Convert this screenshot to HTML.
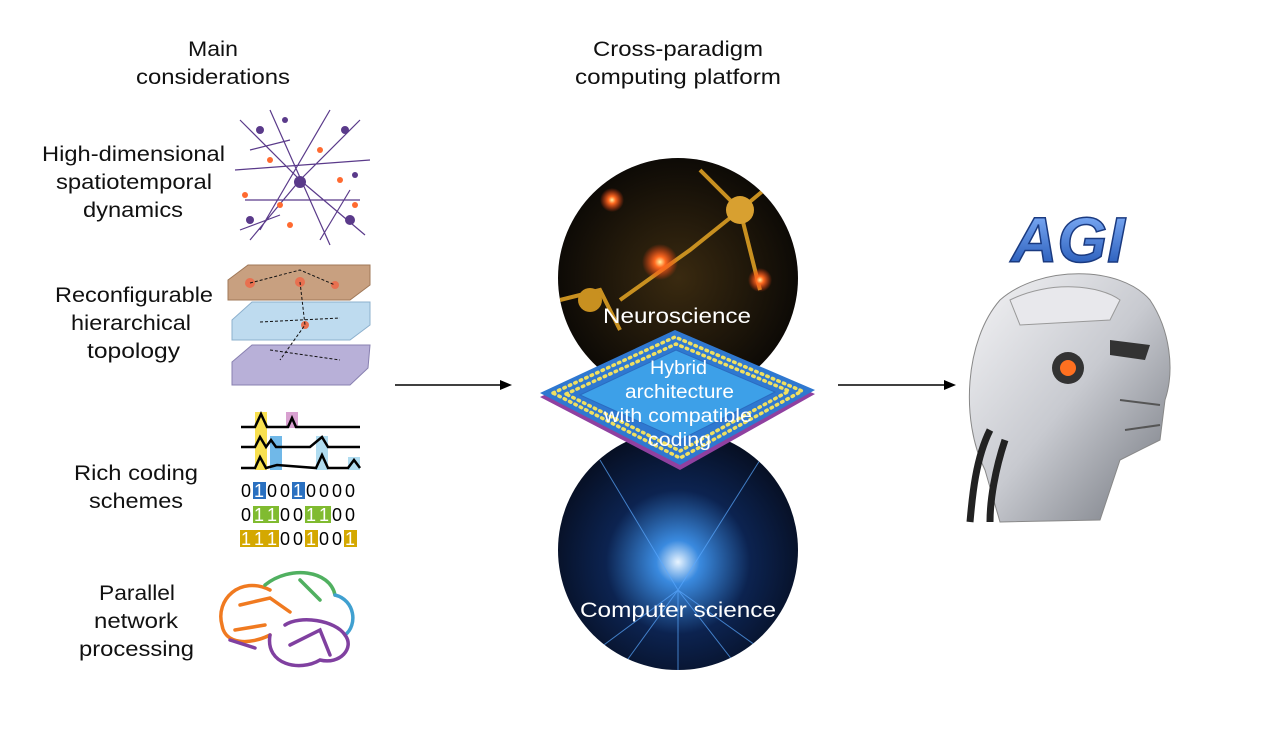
<!DOCTYPE html>
<html><head><meta charset="utf-8"><style>
body{margin:0;width:1264px;height:728px;background:#fff;overflow:hidden;font-family:"Liberation Sans",sans-serif}
</style></head><body>
<svg width="1264" height="728" viewBox="0 0 1264 728" xmlns="http://www.w3.org/2000/svg" font-family="Liberation Sans, sans-serif">
<defs>
<radialGradient id="gn" cx="0.5" cy="0.5" r="0.5"><stop offset="0" stop-color="#3a2a10"/><stop offset="1" stop-color="#0d0a06"/></radialGradient>
<radialGradient id="gc" cx="0.5" cy="0.55" r="0.6"><stop offset="0" stop-color="#e8f4ff"/><stop offset="0.15" stop-color="#3a8adf"/><stop offset="0.5" stop-color="#0c2350"/><stop offset="1" stop-color="#050a18"/></radialGradient>
<radialGradient id="orb" r="0.5"><stop offset="0" stop-color="#fff0a0"/><stop offset="0.3" stop-color="#ff6a20"/><stop offset="1" stop-color="#ff4010" stop-opacity="0"/></radialGradient>
<linearGradient id="head" x1="0" y1="0" x2="1" y2="1"><stop offset="0" stop-color="#f4f4f6"/><stop offset="0.5" stop-color="#c8cad0"/><stop offset="1" stop-color="#70747c"/></linearGradient>
<linearGradient id="agi" x1="0" y1="0" x2="0" y2="1"><stop offset="0" stop-color="#8ab8ff"/><stop offset="1" stop-color="#1a4fb0"/></linearGradient>
<clipPath id="c1"><circle cx="678" cy="278" r="120"/></clipPath>
<clipPath id="c2"><circle cx="678" cy="550" r="120"/></clipPath>
</defs>
<g font-size="21" fill="#111">
<text x="188" y="56" textLength="50" lengthAdjust="spacingAndGlyphs">Main</text><text x="136" y="84" textLength="154" lengthAdjust="spacingAndGlyphs">considerations</text>
<text x="593" y="56" textLength="170" lengthAdjust="spacingAndGlyphs">Cross-paradigm</text><text x="575" y="84" textLength="206" lengthAdjust="spacingAndGlyphs">computing platform</text>
<text x="42" y="161" textLength="183" lengthAdjust="spacingAndGlyphs">High-dimensional</text><text x="56" y="189" textLength="156" lengthAdjust="spacingAndGlyphs">spatiotemporal</text><text x="83" y="217" textLength="100" lengthAdjust="spacingAndGlyphs">dynamics</text>
<text x="55" y="302" textLength="158" lengthAdjust="spacingAndGlyphs">Reconfigurable</text><text x="71" y="330" textLength="120" lengthAdjust="spacingAndGlyphs">hierarchical</text><text x="87" y="358" textLength="93" lengthAdjust="spacingAndGlyphs">topology</text>
<text x="74" y="480" textLength="124" lengthAdjust="spacingAndGlyphs">Rich coding</text><text x="89" y="508" textLength="94" lengthAdjust="spacingAndGlyphs">schemes</text>
<text x="99" y="600" textLength="76" lengthAdjust="spacingAndGlyphs">Parallel</text><text x="94" y="628" textLength="84" lengthAdjust="spacingAndGlyphs">network</text><text x="79" y="656" textLength="115" lengthAdjust="spacingAndGlyphs">processing</text>
</g>
<!-- neurons -->
<g stroke="#5a3a8a" stroke-width="1.2" fill="none">
<path d="M240 120 L300 180 L360 120 M300 180 L250 240 M300 180 L365 235 M235 170 L370 160 M270 110 L330 245 M330 110 L260 230 M245 200 L360 200 M250 150 L290 140 M320 240 L350 190 M240 230 L280 215"/>
</g>
<g fill="#5a3a8a"><circle cx="300" cy="182" r="6"/><circle cx="260" cy="130" r="4"/><circle cx="345" cy="130" r="4"/><circle cx="250" cy="220" r="4"/><circle cx="350" cy="220" r="5"/><circle cx="285" cy="120" r="3"/><circle cx="355" cy="175" r="3"/></g>
<g fill="#ff6a30"><circle cx="270" cy="160" r="3"/><circle cx="320" cy="150" r="3"/><circle cx="245" cy="195" r="3"/><circle cx="340" cy="180" r="3"/><circle cx="290" cy="225" r="3"/><circle cx="355" cy="205" r="3"/><circle cx="280" cy="205" r="3"/></g>
<!-- layers -->
<polygon points="228,280 248,265 370,265 370,285 350,300 228,300" fill="#c8a080" stroke="#a07858"/>
<polygon points="232,320 252,302 370,302 370,325 350,340 232,340" fill="#b8d8ee" stroke="#80a8c8" opacity="0.9"/>
<polygon points="232,362 252,345 370,345 368,368 350,385 232,385" fill="#b8b0d8" stroke="#8880b0"/>
<g fill="#e87050"><circle cx="250" cy="283" r="5"/><circle cx="300" cy="282" r="5"/><circle cx="335" cy="285" r="4"/><circle cx="305" cy="325" r="4"/></g>
<g stroke="#111" stroke-width="1" fill="none" stroke-dasharray="3,2"><path d="M250 283 L300 270 L335 285 M300 282 L305 325 L280 360 M260 322 L340 318 M270 350 L340 360"/></g>
<!-- waves -->
<rect x="255" y="412" width="12" height="58" fill="#f8e050"/>
<rect x="286" y="412" width="12" height="16" fill="#d8a0d0"/>
<rect x="270" y="436" width="12" height="34" fill="#70b8e8"/>
<rect x="316" y="436" width="12" height="34" fill="#b0dcf0"/>
<rect x="348" y="457" width="12" height="13" fill="#b0dcf0"/>
<g stroke="#000" stroke-width="2.5" fill="none">
<path d="M241 427 L255 427 L261 414 L267 427 L288 427 L292 418 L296 427 L360 427"/>
<path d="M241 447 L255 447 L260 437 L266 447 L271 440 L276 447 L310 447 L322 437 L328 447 L360 447"/>
<path d="M241 468 L255 468 L260 457 L266 468 L277 465 L316 468 L322 455 L328 468 L348 468 L354 460 L360 468"/>
</g>
<g font-size="18" text-anchor="middle">
<rect x="253" y="482" width="13" height="17" fill="#2a70c0"/><rect x="292" y="482" width="13" height="17" fill="#2a70c0"/>
<rect x="253" y="506" width="26" height="17" fill="#80bb30"/><rect x="305" y="506" width="26" height="17" fill="#80bb30"/>
<rect x="240" y="530" width="39" height="17" fill="#d4a800"/><rect x="305" y="530" width="13" height="17" fill="#d4a800"/><rect x="344" y="530" width="13" height="17" fill="#d4a800"/>
<text y="497"><tspan x="246">0</tspan><tspan x="259" fill="#fff">1</tspan><tspan x="272">0</tspan><tspan x="285">0</tspan><tspan x="298" fill="#fff">1</tspan><tspan x="311">0</tspan><tspan x="324">0</tspan><tspan x="337">0</tspan><tspan x="350">0</tspan></text>
<text y="521"><tspan x="246">0</tspan><tspan x="259" fill="#fff">1</tspan><tspan x="272" fill="#fff">1</tspan><tspan x="285">0</tspan><tspan x="298">0</tspan><tspan x="311" fill="#fff">1</tspan><tspan x="324" fill="#fff">1</tspan><tspan x="337">0</tspan><tspan x="350">0</tspan></text>
<text y="545"><tspan x="246" fill="#fff">1</tspan><tspan x="259" fill="#fff">1</tspan><tspan x="272" fill="#fff">1</tspan><tspan x="285">0</tspan><tspan x="298">0</tspan><tspan x="311" fill="#fff">1</tspan><tspan x="324">0</tspan><tspan x="337">0</tspan><tspan x="350" fill="#fff">1</tspan></text>
</g>
<!-- brain -->
<g fill="none" stroke-width="3.5" stroke-linecap="round">
<path d="M270 590 C240 575 215 600 222 625 C225 645 250 645 270 635" stroke="#f07a20"/>
<path d="M240 605 L270 598 L290 612 M235 630 L265 625" stroke="#f07a20"/>
<path d="M265 585 C290 565 330 570 335 595" stroke="#50b060"/>
<path d="M300 580 L320 600" stroke="#50b060"/>
<path d="M335 595 C355 600 358 625 345 635" stroke="#40a0d0"/>
<path d="M270 635 C265 665 300 672 320 660 C340 665 355 648 345 635 C335 620 300 615 285 625" stroke="#8040a0"/>
<path d="M290 645 L320 630 L330 655 M230 640 L255 648" stroke="#8040a0"/>
</g>
<!-- arrows -->
<g stroke="#000" stroke-width="1.5"><line x1="395" y1="385" x2="503" y2="385"/><line x1="838" y1="385" x2="946" y2="385"/></g>
<polygon points="512,385 500,380 500,390" fill="#000"/><polygon points="956,385 944,380 944,390" fill="#000"/>
<!-- circles -->
<circle cx="678" cy="278" r="120" fill="url(#gn)"/>
<g clip-path="url(#c1)">
<g stroke="#c89020" stroke-width="4" fill="none"><path d="M740 210 L800 160 M740 210 L690 250 L620 300 M740 210 L760 290 M740 210 L700 170 M560 300 L600 290 L620 330"/></g>
<circle cx="740" cy="210" r="14" fill="#d8a030"/><circle cx="590" cy="300" r="12" fill="#c89020"/>
<circle cx="660" cy="262" r="18" fill="url(#orb)"/><circle cx="612" cy="200" r="12" fill="url(#orb)"/><circle cx="760" cy="280" r="12" fill="url(#orb)"/>
</g>
<circle cx="678" cy="550" r="120" fill="url(#gc)"/>
<g clip-path="url(#c2)" stroke="#5aa8ff" stroke-width="1" opacity="0.7"><path d="M678 590 L570 670 M678 590 L620 670 M678 590 L678 670 M678 590 L740 670 M678 590 L790 670 M678 590 L600 460 M678 590 L760 460"/></g>
<g fill="#fff" font-size="21"><text x="603" y="323" textLength="148" lengthAdjust="spacingAndGlyphs">Neuroscience</text><text x="580" y="617" textLength="196" lengthAdjust="spacingAndGlyphs">Computer science</text></g>
<!-- chip -->
<polygon points="540,397 675,334 815,394 680,470" fill="#9040a0"/>
<polygon points="540,393 675,330 815,390 680,465" fill="#2f78d0"/>
<polygon points="580,395 676,350 775,392 680,440" fill="#3da0e8" stroke="#2a6cc0"/>
<g fill="none" stroke="#f0e060" stroke-width="3.5" stroke-dasharray="1.5,4.5" stroke-linecap="round">
<polygon points="553,393 675,337 802,391 680,458"/>
<polygon points="566,394 676,344 789,391 680,451"/>
</g>
<g fill="#fff" font-size="19"><text x="650" y="374" textLength="57" lengthAdjust="spacingAndGlyphs">Hybrid</text><text x="625" y="398" textLength="109" lengthAdjust="spacingAndGlyphs">architecture</text><text x="604" y="422" textLength="148" lengthAdjust="spacingAndGlyphs">with compatible</text><text x="648" y="446" textLength="63" lengthAdjust="spacingAndGlyphs">coding</text></g>
<!-- AGI robot -->
<text x="1068" y="262" font-size="64" font-weight="bold" font-style="italic" fill="url(#agi)" stroke="#1a3a80" stroke-width="1.5" text-anchor="middle">AGI</text>
<path d="M1000 300 C1040 265 1120 265 1150 300 C1170 330 1175 370 1165 400 L1160 440 L1120 460 L1100 520 L1000 522 L985 470 C960 420 965 340 1000 300 Z" fill="url(#head)" stroke="#888"/>
<path d="M1010 300 C1050 280 1100 285 1120 300 L1110 320 L1020 325 Z" fill="#e8e8ec" stroke="#999"/>
<circle cx="1068" cy="368" r="16" fill="#333"/><circle cx="1068" cy="368" r="8" fill="#ff7020"/>
<path d="M1110 340 L1150 345 L1145 360 L1110 355 Z" fill="#333"/>
<path d="M1120 400 L1160 405 M1125 430 L1160 425" stroke="#555" stroke-width="2"/>
<path d="M990 430 C975 460 972 500 970 522 M1005 440 C995 470 990 500 990 522" stroke="#222" stroke-width="7" fill="none"/>
</svg>
</body></html>
